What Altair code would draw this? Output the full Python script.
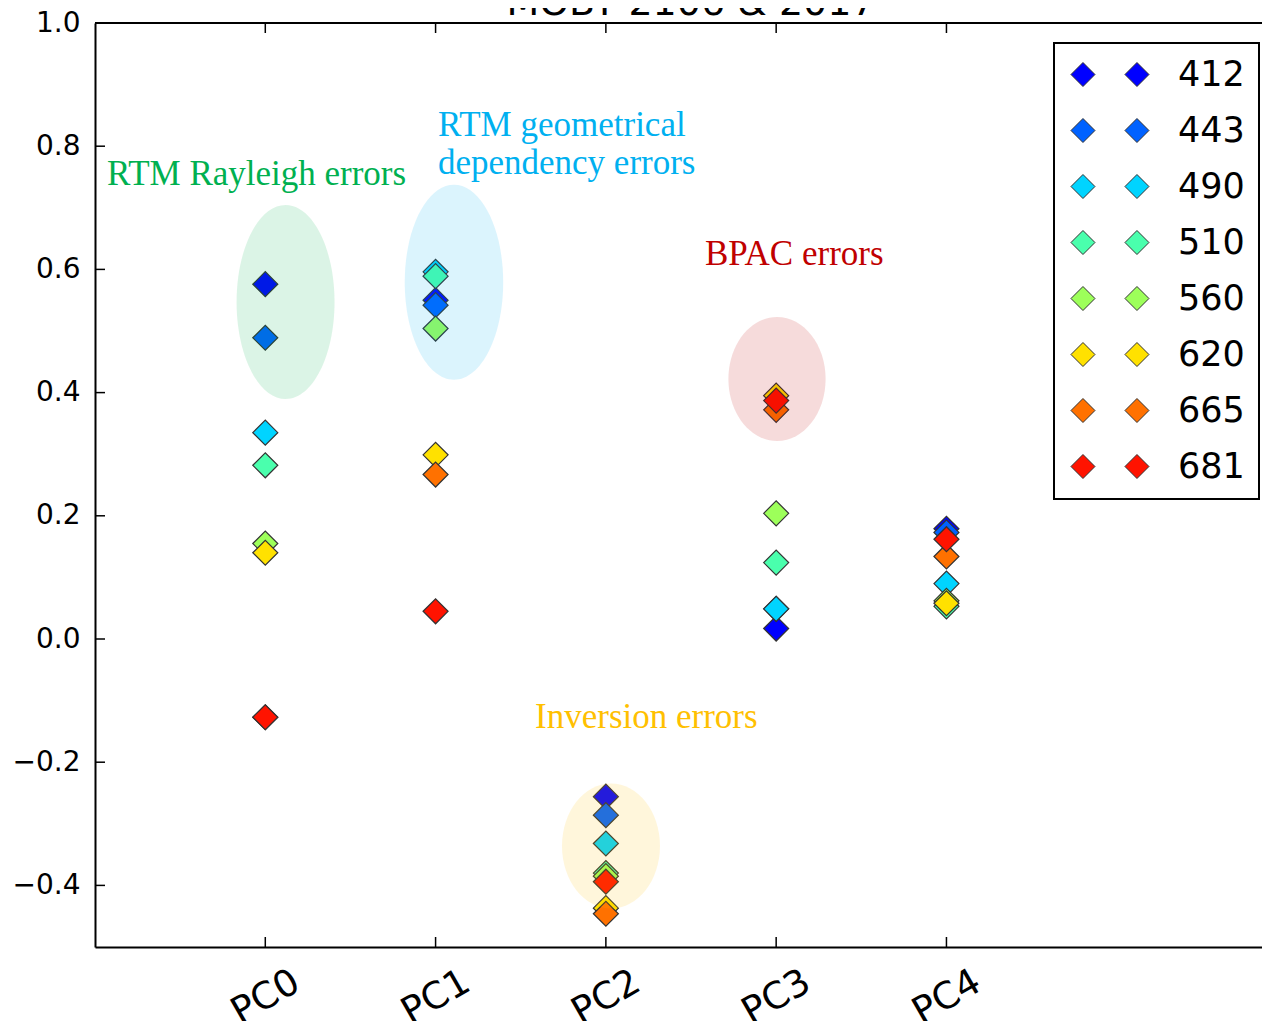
import altair as alt
import pandas as pd

# ---------------- data ----------------
components = ["PC0", "PC1", "PC2", "PC3", "PC4"]
wavelengths = ["412", "443", "490", "510", "560", "620", "665", "681"]
band_colors = ["#0000ff", "#0062ff", "#00d4ff", "#4affad", "#9dff5a", "#ffe100", "#ff7100", "#ff1300"]

pc0 = [0.576, 0.489, 0.335, 0.282, 0.155, 0.140, -0.127, -0.127]
pc1 = [0.550, 0.542, 0.596, 0.589, 0.504, 0.299, 0.267, 0.045]
pc2 = [-0.256, -0.286, -0.332, -0.380, -0.385, -0.437, -0.446, -0.394]
pc3 = [0.017, 0.049, 0.049, 0.124, 0.204, 0.395, 0.372, 0.387]
pc4 = [0.179, 0.173, 0.090, 0.053, 0.062, 0.058, 0.134, 0.162]
loadings = [pc0, pc1, pc2, pc3, pc4]

y_ticks = [-0.4, -0.2, 0.0, 0.2, 0.4, 0.6, 0.8, 1.0]
x_ticks = [0, 1, 2, 3, 4]

note_text = ["RTM Rayleigh errors", "RTM geometrical\ndependency errors", "BPAC errors", "Inversion errors"]
note_x = [-0.93, 1.014, 2.582, 1.584]
note_y = [0.737, 0.817, 0.607, -0.145]
note_color = ["#00b050", "#00b0f0", "#c00000", "#ffc000"]

ellipse_x = [0.119, 1.108, 3.005, 2.030]
ellipse_y = [0.547, 0.579, 0.422, -0.336]
ellipse_color = ["#00b050", "#00b0f0", "#c00000", "#ffc000"]

title_text = "MOBY 2106 & 2017"
title_x = 2.5  # centre of the full axis range (-1 .. 6)

# ---------------- build tables ----------------
rows = []
for i, vals in enumerate(loadings):
    for w, v in zip(wavelengths, vals):
        rows.append({"pc": i, "band": w, "loading": v})
df = pd.DataFrame(rows)

notes = pd.DataFrame({"x": note_x, "y": note_y, "text": note_text, "color": note_color})

W, H = 1167, 924
xscale = alt.Scale(domain=[-1, 5.853], nice=False, zero=False)
yscale = alt.Scale(domain=[-0.5, 1.0], nice=False, zero=False)

label_expr = "[" + ",".join("'" + c + "'" for c in components) + "][datum.value]"

# two diamonds side by side for legend symbol (unit = 12 px)
legend_symbol = ("M -1.21,0 L -0.21,-1 L 0.79,0 L -0.21,1 Z "
                 "M 3.29,0 L 4.29,-1 L 5.29,0 L 4.29,1 Z")

points = alt.Chart(df).mark_point(
    shape="diamond", filled=True, size=625, stroke="#333333", strokeWidth=1.2, opacity=1
).encode(
    x=alt.X("pc:Q", scale=xscale, title=None,
            axis=alt.Axis(values=x_ticks, labelExpr=label_expr, labelAngle=330,
                          labelAlign="center", labelBaseline="middle", labelPadding=50,
                          labelFontSize=37, labelOverlap=False, ticks=False, tickSize=0,
                          grid=False, labelFont="DejaVu Sans", labelColor="black",
                          domainColor="black", domainWidth=2)),
    y=alt.Y("loading:Q", scale=yscale, title=None,
            axis=alt.Axis(values=y_ticks, format=".1f", labelFontSize=28, labelPadding=15,
                          ticks=False, tickSize=0, grid=False, labelFont="DejaVu Sans",
                          labelColor="black", domainColor="black", domainWidth=2)),
    color=alt.Color("band:N", scale=alt.Scale(domain=wavelengths, range=band_colors),
                    sort=wavelengths,
                    legend=alt.Legend(title=None, orient="none", legendX=959, legendY=20,
                                      symbolType=legend_symbol, symbolSize=576,
                                      symbolStrokeColor="#333333", symbolStrokeWidth=1,
                                      labelOffset=75, rowPadding=20, padding=14,
                                      labelFontSize=35, labelFont="DejaVu Sans",
                                      labelColor="black", strokeColor="black",
                                      fillColor="white")),
)

tall = "M 0,-1 A 0.505,1 0 1,1 0,1 A 0.505,1 0 1,1 0,-1 Z"
short = "M 0,-1 A 0.784,1 0 1,1 0,1 A 0.784,1 0 1,1 0,-1 Z"
ellipse_shapes = [tall, tall, short, short]
ellipse_sizes = [194 * 194, 195 * 195, 124 * 124, 125 * 125]

ellipses = []
for cx, cy, col, shp, sz in zip(ellipse_x, ellipse_y, ellipse_color, ellipse_shapes, ellipse_sizes):
    ellipses.append(
        alt.Chart(pd.DataFrame({"x": [cx], "y": [cy]})).mark_point(
            shape=shp, size=sz, filled=True, fill=col, opacity=0.14, strokeWidth=0
        ).encode(
            x=alt.X("x:Q", scale=xscale, title=None),
            y=alt.Y("y:Q", scale=yscale, title=None),
        )
    )

texts = alt.Chart(notes).mark_text(
    align="left", baseline="alphabetic", font="Liberation Serif", fontSize=35,
    lineBreak="\n", lineHeight=38
).encode(
    x=alt.X("x:Q", scale=xscale, title=None),
    y=alt.Y("y:Q", scale=yscale, title=None),
    text="text:N",
    color=alt.Color("color:N", scale=None),
)

title_mark = alt.Chart(pd.DataFrame({"x": [title_x], "t": [title_text]})).mark_text(
    align="center", baseline="alphabetic", font="DejaVu Sans", fontSize=38, color="black"
).encode(
    x=alt.X("x:Q", scale=xscale, title=None),
    y=alt.value(-8),
    text="t:N",
)

ytick_df = pd.DataFrame({"v": y_ticks})
xtick_df = pd.DataFrame({"p": x_ticks})

yticks = alt.Chart(ytick_df).mark_rule(color="black", strokeWidth=1.5).encode(
    y=alt.Y("v:Q", scale=yscale, title=None), x=alt.value(0), x2=alt.value(10)
)
xticks_bottom = alt.Chart(xtick_df).mark_rule(color="black", strokeWidth=1.5).encode(
    x=alt.X("p:Q", scale=xscale, title=None), y=alt.value(H), y2=alt.value(H - 10)
)
xticks_top = alt.Chart(xtick_df).mark_rule(color="black", strokeWidth=1.5).encode(
    x=alt.X("p:Q", scale=xscale, title=None), y=alt.value(0), y2=alt.value(10)
)
top_frame = alt.Chart(pd.DataFrame({"a": [0]})).mark_rule(color="black", strokeWidth=2).encode(
    x=alt.value(0), x2=alt.value(W), y=alt.value(0)
)

chart = alt.layer(
    points, *ellipses, texts, title_mark, yticks, xticks_bottom, xticks_top, top_frame
).properties(
    width=W, height=H,
    autosize=alt.AutoSizeParams(type="none"),
    padding={"left": 87, "top": 15, "right": 0, "bottom": 74},
).configure_view(
    stroke=None
).configure_axis(
    labelFont="DejaVu Sans", labelColor="black", domainColor="black", domainWidth=2,
    grid=False
).configure_legend(
    strokeColor="black", strokeWidth=2, fillColor="white", labelFont="DejaVu Sans",
    labelColor="black", cornerRadius=0
)

chart.save("out.html", embed_options={"renderer": "svg", "actions": False})
